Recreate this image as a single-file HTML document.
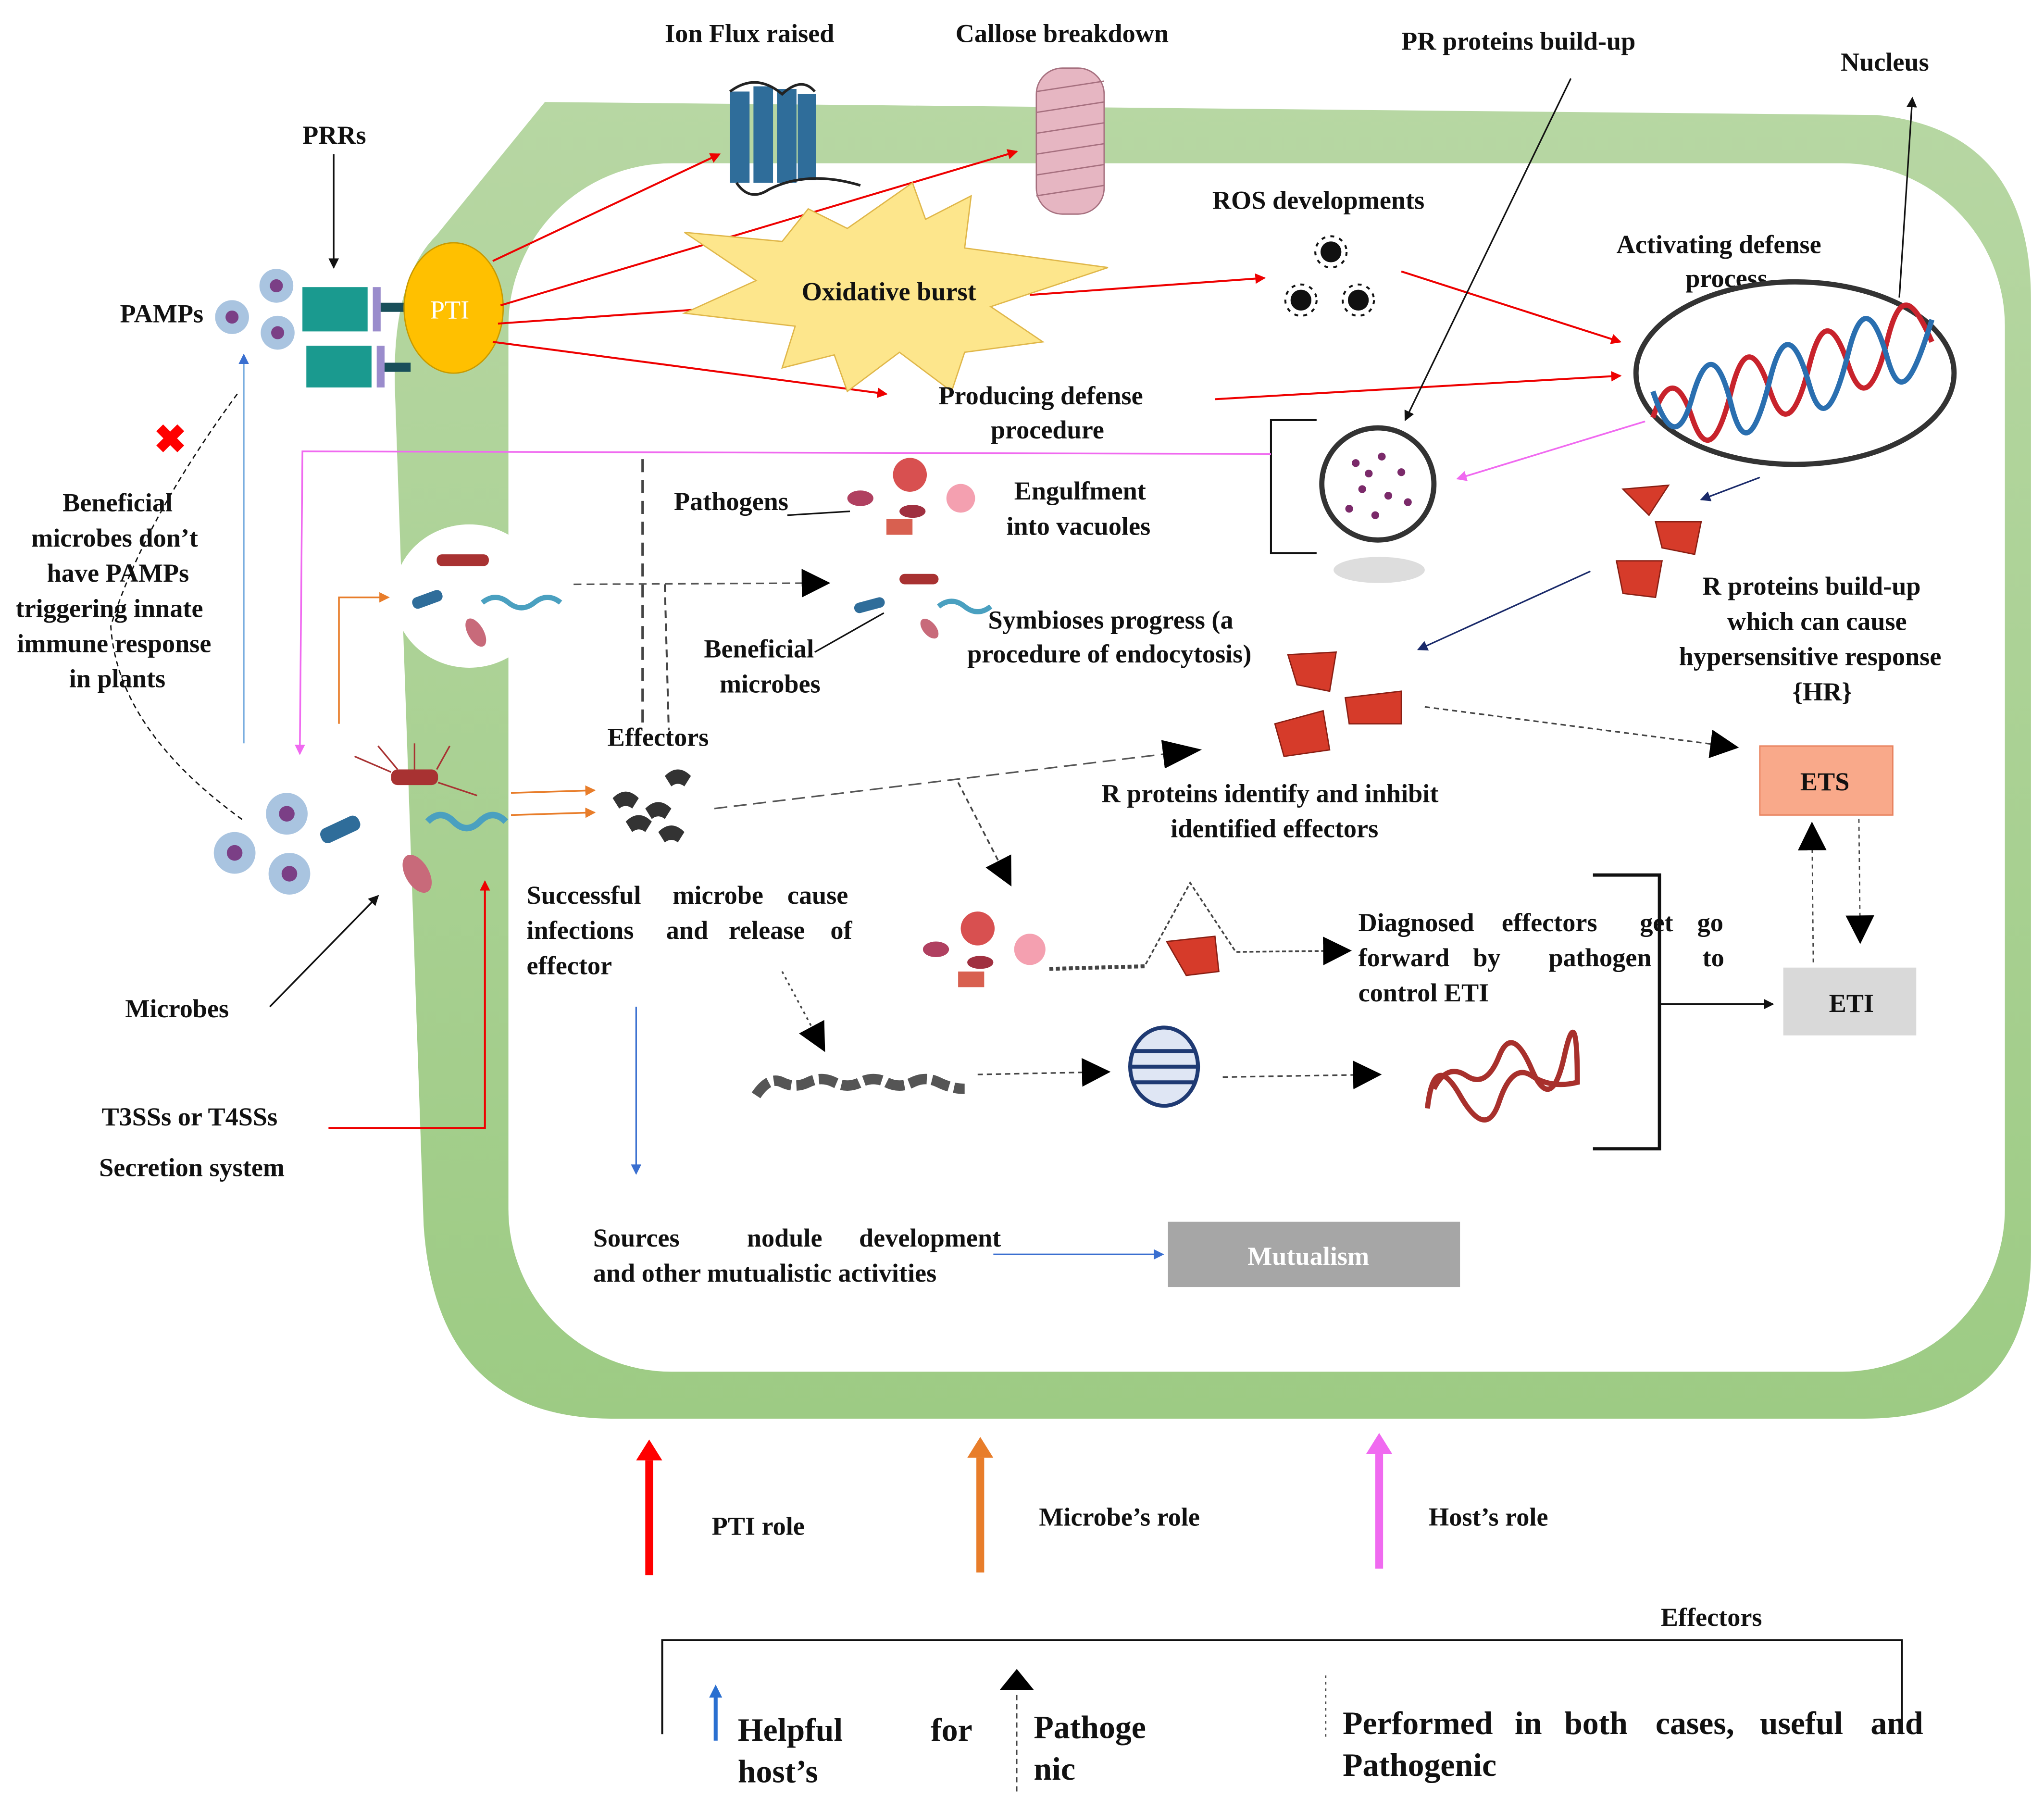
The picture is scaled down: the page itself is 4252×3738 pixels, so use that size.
<!DOCTYPE html>
<html><head><meta charset="utf-8"><style>
html,body{margin:0;padding:0;background:#fff;}
svg{display:block;}
text{font-family:"Liberation Serif",serif;font-weight:bold;fill:#111;font-size:20px;}
</style></head><body>
<svg width="4252" height="3738" viewBox="0 0 1568 1378" xmlns="http://www.w3.org/2000/svg">
<defs>
<marker id="ar" markerWidth="8" markerHeight="8" refX="7" refY="4" orient="auto" markerUnits="userSpaceOnUse"><path d="M0,0 L8,4 L0,8z" fill="#e00"/></marker>
<marker id="ak" markerWidth="8" markerHeight="8" refX="7" refY="4" orient="auto" markerUnits="userSpaceOnUse"><path d="M0,0 L8,4 L0,8z" fill="#111"/></marker>
<marker id="ao" markerWidth="8" markerHeight="8" refX="7" refY="4" orient="auto" markerUnits="userSpaceOnUse"><path d="M0,0 L8,4 L0,8z" fill="#e87d2a"/></marker>
<marker id="ab" markerWidth="8" markerHeight="8" refX="7" refY="4" orient="auto" markerUnits="userSpaceOnUse"><path d="M0,0 L8,4 L0,8z" fill="#3a6fd0"/></marker>
<marker id="ap" markerWidth="8" markerHeight="8" refX="7" refY="4" orient="auto" markerUnits="userSpaceOnUse"><path d="M0,0 L8,4 L0,8z" fill="#f06af0"/></marker>
<marker id="an" markerWidth="8" markerHeight="8" refX="7" refY="4" orient="auto" markerUnits="userSpaceOnUse"><path d="M0,0 L8,4 L0,8z" fill="#1a2a6a"/></marker>
<marker id="abig" markerWidth="30" markerHeight="22" refX="28" refY="11" orient="auto" markerUnits="userSpaceOnUse"><path d="M0,0 L30,11 L0,22z" fill="#000"/></marker>
<marker id="amid" markerWidth="22" markerHeight="22" refX="20" refY="11" orient="auto" markerUnits="userSpaceOnUse"><path d="M0,0 L22,11 L0,22z" fill="#000"/></marker>
<linearGradient id="gw" x1="0" y1="0" x2="0" y2="1"><stop offset="0" stop-color="#b7d7a3"/><stop offset="1" stop-color="#9dcb84"/></linearGradient>
</defs>
<!-- cell wall -->
<path d="M418,78 L1440,88 Q1558,100 1558,230 L1558,960 Q1558,1088 1430,1088 L470,1088 Q335,1088 325,940 L303,300 Q300,215 335,180 Z" fill="url(#gw)"/>
<rect x="390" y="125" width="1148" height="927" rx="125" fill="#fff"/>
<ellipse cx="360" cy="457" rx="58" ry="55" fill="#fff"/>
<!-- PRRs/PAMPs -->
<text x="232" y="110">PRRs</text>
<line x1="256" y1="118" x2="256" y2="205" stroke="#111" stroke-width="1.2" marker-end="url(#ak)"/>
<text x="92" y="247">PAMPs</text>
<g fill="#a9c4e0"><circle cx="178" cy="243" r="13"/><circle cx="212" cy="219" r="13"/><circle cx="213" cy="255" r="13"/></g>
<g fill="#7b3f86"><circle cx="178" cy="243" r="5"/><circle cx="212" cy="219" r="5"/><circle cx="213" cy="255" r="5"/></g>
<rect x="232" y="220" width="50" height="34" fill="#1a9a8f"/><rect x="235" y="265" width="50" height="32" fill="#1a9a8f"/>
<rect x="286" y="220" width="6" height="34" fill="#9a8ccc"/><rect x="289" y="265" width="6" height="32" fill="#9a8ccc"/>
<rect x="292" y="232" width="22" height="7" fill="#194f5a"/><rect x="295" y="278" width="20" height="7" fill="#194f5a"/>
<ellipse cx="348" cy="236" rx="38" ry="50" fill="#ffc000" stroke="#c89a00"/>
<text x="330" y="244" style="fill:#fff;font-weight:normal">PTI</text>
<!-- red arrows from PTI -->
<g stroke="#e00" stroke-width="1.5" fill="none">
<line x1="378" y1="200" x2="552" y2="118" marker-end="url(#ar)"/>
<line x1="384" y1="234" x2="780" y2="116" marker-end="url(#ar)"/>
<line x1="382" y1="248" x2="552" y2="236" marker-end="url(#ar)"/>
<line x1="378" y1="262" x2="680" y2="302" marker-end="url(#ar)"/>
<line x1="790" y1="226" x2="970" y2="213" marker-end="url(#ar)"/>
<line x1="1075" y1="208" x2="1243" y2="262" marker-end="url(#ar)"/>
<line x1="932" y1="306" x2="1243" y2="288" marker-end="url(#ar)"/>
<path d="M252,865 L372,865 L372,676" marker-end="url(#ar)"/>
</g>
<!-- top labels -->
<text x="510" y="32">Ion Flux raised</text>
<text x="733" y="32">Callose breakdown</text>
<text x="1075" y="38">PR proteins build-up</text>
<text x="1412" y="54">Nucleus</text>
<g fill="#2f6d9a"><rect x="560" y="70" width="15" height="70"/><rect x="578" y="66" width="15" height="74"/><rect x="596" y="68" width="15" height="72"/><rect x="612" y="72" width="14" height="66"/></g>
<path d="M560,70 Q580,55 600,72 Q615,58 625,70" stroke="#222" fill="none" stroke-width="2"/>
<path d="M565,140 Q575,155 590,145 Q620,130 660,142" stroke="#222" fill="none" stroke-width="2"/>
<rect x="795" y="52" width="52" height="112" rx="20" fill="#e6b6c2" stroke="#a6707f"/>
<g stroke="#a6707f" stroke-width="1"><line x1="795" y1="70" x2="847" y2="62"/><line x1="795" y1="86" x2="847" y2="78"/><line x1="795" y1="102" x2="847" y2="94"/><line x1="795" y1="118" x2="847" y2="110"/><line x1="795" y1="134" x2="847" y2="126"/><line x1="795" y1="150" x2="847" y2="142"/></g>
<!-- oxidative burst -->
<path d="M525,178 L600,185 L620,160 L650,175 L700,140 L710,168 L745,150 L740,190 L850,205 L760,235 L800,262 L740,270 L730,300 L690,270 L650,300 L640,272 L600,282 L610,250 L525,240 L580,215 Z" fill="#fde68c" stroke="#e0b74a"/>
<text x="615" y="230">Oxidative burst</text>
<text x="930" y="160">ROS developments</text>
<g fill="#111"><circle cx="1021" cy="193" r="8"/><circle cx="998" cy="230" r="8"/><circle cx="1042" cy="230" r="8"/></g>
<g fill="none" stroke="#111" stroke-width="1.5"><circle cx="1021" cy="193" r="12" stroke-dasharray="3 4"/><circle cx="998" cy="230" r="12" stroke-dasharray="3 4"/><circle cx="1042" cy="230" r="12" stroke-dasharray="3 4"/></g>
<text x="1240" y="194">Activating defense</text>
<text x="1293" y="220">process</text>
<ellipse cx="1377" cy="286" rx="122" ry="70" fill="#fff" stroke="#333" stroke-width="4"/>
<path d="M1268,320 C1278,290 1288,290 1298,320 S1318,340 1328,300 S1348,270 1358,300 S1378,320 1388,280 S1408,250 1418,280 S1438,300 1448,260 S1468,230 1482,262" stroke="#c8232c" stroke-width="4" fill="none"/>
<path d="M1268,300 C1278,330 1288,340 1298,305 S1318,270 1328,310 S1348,330 1358,290 S1378,260 1388,295 S1408,310 1418,270 S1438,240 1448,275 S1468,290 1482,245" stroke="#2a6fb0" stroke-width="4" fill="none"/>
<line x1="1457" y1="228" x2="1467" y2="75" stroke="#111" stroke-width="1.2" marker-end="url(#ak)"/>
<text x="720" y="310">Producing defense</text>
<text x="760" y="336">procedure</text>
<line x1="1205" y1="60" x2="1078" y2="322" stroke="#111" stroke-width="1.2" marker-end="url(#ak)"/>
<path d="M1010,322 L975,322 L975,424 L1010,424" stroke="#111" stroke-width="1.5" fill="none"/>
<ellipse cx="1058" cy="437" rx="35" ry="10" fill="#ddd"/>
<circle cx="1057" cy="371" r="43" fill="#fff" stroke="#333" stroke-width="4"/>
<g fill="#7b2a6a"><circle cx="1040" cy="355" r="3"/><circle cx="1060" cy="350" r="3"/><circle cx="1075" cy="362" r="3"/><circle cx="1045" cy="375" r="3"/><circle cx="1065" cy="380" r="3"/><circle cx="1080" cy="385" r="3"/><circle cx="1035" cy="390" r="3"/><circle cx="1055" cy="395" r="3"/><circle cx="1050" cy="363" r="3"/></g>
<line x1="1262" y1="323" x2="1118" y2="367" stroke="#f06af0" stroke-width="1.3" marker-end="url(#ap)"/>
<path d="M975,348 L232,346 L230,578" stroke="#f06af0" stroke-width="1.3" fill="none" marker-end="url(#ap)"/>
<!-- R proteins -->
<g fill="#d63b2a" stroke="#8a1f14"><path d="M1245,375 L1280,372 L1265,395 Z"/><path d="M1270,400 L1305,400 L1300,425 L1275,420Z"/><path d="M1240,430 L1275,430 L1270,458 L1245,455Z"/></g>
<line x1="1350" y1="366" x2="1305" y2="383" stroke="#1a2a6a" stroke-width="1.2" marker-end="url(#an)"/>
<line x1="1220" y1="438" x2="1088" y2="498" stroke="#1a2a6a" stroke-width="1.2" marker-end="url(#an)"/>
<text x="1306" y="456">R proteins build-up</text>
<text x="1325" y="483">which can cause</text>
<text x="1288" y="510">hypersensitive response</text>
<text x="1375" y="537">{HR}</text>
<g fill="#d63b2a" stroke="#8a1f14"><path d="M988,502 L1025,500 L1020,530 L995,525Z"/><path d="M1032,535 L1075,530 L1075,555 L1035,555Z"/><path d="M978,555 L1015,545 L1020,575 L985,580Z"/></g>
<!-- middle -->
<line x1="493" y1="352" x2="493" y2="560" stroke="#444" stroke-width="2" stroke-dasharray="10 6"/>
<line x1="510" y1="448" x2="513" y2="560" stroke="#444" stroke-width="1.5" stroke-dasharray="6 4"/>
<line x1="440" y1="448" x2="635" y2="447" stroke="#555" stroke-width="1.2" stroke-dasharray="6 4" marker-end="url(#amid)"/>
<text x="517" y="391">Pathogens</text>
<line x1="604" y1="395" x2="652" y2="392" stroke="#111" stroke-width="1.2"/>
<g><circle cx="698" cy="364" r="13" fill="#d85050"/><ellipse cx="660" cy="382" rx="10" ry="6" fill="#b04060"/><circle cx="737" cy="382" r="11" fill="#f4a0b0"/><ellipse cx="700" cy="392" rx="10" ry="5" fill="#a03040"/><rect x="680" y="398" width="20" height="12" fill="#d86050"/></g>
<text x="778" y="383">Engulfment</text>
<text x="772" y="410">into vacuoles</text>
<!-- beneficial microbes -->
<rect x="335" y="425" width="40" height="9" rx="4" fill="#a83232"/>
<rect x="316" y="455" width="24" height="9" rx="4" fill="#2f6d9a" transform="rotate(-20 328 460)"/>
<path d="M370,462 q10,-8 20,0 t20,0 t20,0" stroke="#4aa0c0" stroke-width="4" fill="none"/>
<ellipse cx="365" cy="485" rx="6" ry="12" fill="#c86a7a" transform="rotate(-30 365 485)"/>
<rect x="690" y="440" width="30" height="8" rx="4" fill="#a83232"/>
<rect x="655" y="460" width="24" height="8" rx="4" fill="#2f6d9a" transform="rotate(-15 667 464)"/>
<path d="M720,465 q10,-8 20,0 t20,0" stroke="#4aa0c0" stroke-width="4" fill="none"/>
<ellipse cx="713" cy="482" rx="5" ry="9" fill="#c86a7a" transform="rotate(-40 713 482)"/>
<text x="758" y="482">Symbioses progress (a</text>
<text x="742" y="508">procedure of endocytosis)</text>
<text x="540" y="504">Beneficial</text>
<text x="552" y="531">microbes</text>
<line x1="625" y1="500" x2="678" y2="470" stroke="#111" stroke-width="1.2"/>
<text x="48" y="392">Beneficial</text>
<text x="24" y="419">microbes don’t</text>
<text x="36" y="446">have PAMPs</text>
<text x="12" y="473">triggering innate</text>
<text x="13" y="500">immune response</text>
<text x="53" y="527">in plants</text>
<path d="M182,302 Q110,400 85,480 Q90,560 188,630" stroke="#111" stroke-width="1" stroke-dasharray="4 3" fill="none"/>
<text x="118" y="347" style="fill:#f00;font-size:30px">✖</text>
<line x1="187" y1="570" x2="187" y2="272" stroke="#7aaee0" stroke-width="1.2" marker-end="url(#ab)"/>
<path d="M260,555 L260,458 L298,458" stroke="#e87d2a" stroke-width="1.3" fill="none" marker-end="url(#ao)"/>
<!-- microbes bottom left -->
<g fill="#a9c4e0"><circle cx="220" cy="624" r="16"/><circle cx="180" cy="654" r="16"/><circle cx="222" cy="670" r="16"/></g>
<g fill="#7b3f86"><circle cx="220" cy="624" r="6"/><circle cx="180" cy="654" r="6"/><circle cx="222" cy="670" r="6"/></g>
<rect x="300" y="590" width="36" height="12" rx="5" fill="#a83232"/>
<rect x="245" y="630" width="32" height="12" rx="5" fill="#2f6d9a" transform="rotate(-25 261 636)"/>
<path d="M328,630 q10,-10 20,0 t20,0 t20,0" stroke="#4aa0c0" stroke-width="5" fill="none"/>
<ellipse cx="320" cy="670" rx="9" ry="16" fill="#c86a7a" transform="rotate(-30 320 670)"/>
<g stroke="#a83232" stroke-width="1.2"><line x1="300" y1="592" x2="272" y2="580"/><line x1="305" y1="590" x2="290" y2="572"/><line x1="335" y1="590" x2="345" y2="572"/><line x1="336" y1="600" x2="366" y2="610"/><line x1="318" y1="590" x2="318" y2="570"/></g>
<text x="96" y="780">Microbes</text>
<line x1="207" y1="772" x2="290" y2="687" stroke="#111" stroke-width="1.3" marker-end="url(#ak)"/>
<text x="78" y="863">T3SSs or T4SSs</text>
<text x="76" y="902">Secretion system</text>
<line x1="392" y1="608" x2="456" y2="606" stroke="#e87d2a" stroke-width="1.3" marker-end="url(#ao)"/>
<line x1="392" y1="625" x2="456" y2="623" stroke="#e87d2a" stroke-width="1.3" marker-end="url(#ao)"/>
<text x="466" y="572">Effectors</text>
<g fill="#333"><path d="M470,612 q10,-10 20,0 l-5,8 q-5,-4 -10,0z"/><path d="M510,595 q10,-10 20,0 l-5,8 q-5,-4 -10,0z"/><path d="M495,620 q10,-10 20,0 l-5,8 q-5,-4 -10,0z"/><path d="M505,638 q10,-10 20,0 l-5,8 q-5,-4 -10,0z"/><path d="M480,630 q10,-10 20,0 l-5,8 q-5,-4 -10,0z"/></g>
<line x1="548" y1="620" x2="920" y2="575" stroke="#555" stroke-width="1.2" stroke-dasharray="10 5" marker-end="url(#abig)"/>
<line x1="1093" y1="542" x2="1332" y2="573" stroke="#444" stroke-width="1.2" stroke-dasharray="4 3" marker-end="url(#amid)"/>
<text x="845" y="615">R proteins identify and inhibit</text>
<text x="898" y="642">identified effectors</text>
<rect x="1350" y="572" width="102" height="53" fill="#f9a98a" stroke="#e8825e"/>
<text x="1381" y="606">ETS</text>
<rect x="1368" y="742" width="102" height="52" fill="#d9d9d9"/>
<text x="1403" y="776">ETI</text>
<line x1="1391" y1="738" x2="1390" y2="632" stroke="#444" stroke-width="1" stroke-dasharray="3 3" marker-end="url(#amid)"/>
<line x1="1426" y1="628" x2="1427" y2="722" stroke="#444" stroke-width="1" stroke-dasharray="3 3" marker-end="url(#amid)"/>
<line x1="735" y1="600" x2="775" y2="678" stroke="#444" stroke-width="1.3" stroke-dasharray="4 3" marker-end="url(#amid)"/>
<text x="404" y="693">Successful</text><text x="516" y="693">microbe</text><text x="604" y="693">cause</text>
<text x="404" y="720">infections</text><text x="511" y="720">and</text><text x="559" y="720">release</text><text x="637" y="720">of</text>
<text x="404" y="747">effector</text>
<g><circle cx="750" cy="712" r="13" fill="#d85050"/><ellipse cx="718" cy="728" rx="10" ry="6" fill="#b04060"/><circle cx="790" cy="728" r="12" fill="#f4a0b0"/><ellipse cx="752" cy="738" rx="10" ry="5" fill="#a03040"/><rect x="735" y="745" width="20" height="12" fill="#d86050"/></g>
<path d="M805,743 L878,741 L913,677 L948,730 L1035,729" stroke="#444" stroke-width="1.3" stroke-dasharray="3 2" fill="none" marker-end="url(#amid)"/>
<path d="M805,743 L878,741" stroke="#444" stroke-width="3" stroke-dasharray="3 2"/>
<path d="M895,722 L932,718 L935,745 L910,748Z" fill="#d63b2a" stroke="#8a1f14"/>
<text x="1042" y="714">Diagnosed</text><text x="1152" y="714">effectors</text><text x="1258" y="714">get</text><text x="1302" y="714">go</text>
<text x="1042" y="741">forward</text><text x="1130" y="741">by</text><text x="1188" y="741">pathogen</text><text x="1306" y="741">to</text>
<text x="1042" y="768">control ETI</text>
<path d="M1222,671 L1273,671 L1273,881 L1222,881" stroke="#111" stroke-width="2.5" fill="none"/>
<line x1="1273" y1="770" x2="1360" y2="770" stroke="#111" stroke-width="1.3" marker-end="url(#ak)"/>
<line x1="600" y1="745" x2="632" y2="805" stroke="#444" stroke-width="1.3" stroke-dasharray="2 3" marker-end="url(#amid)"/>
<path d="M580,840 q10,-15 20,-10 t20,0 t20,0 t20,0 t20,0 t20,0 t20,0 t20,5" stroke="#555" stroke-width="8" fill="none" stroke-dasharray="14 4"/>
<line x1="750" y1="824" x2="850" y2="822" stroke="#444" stroke-width="1.2" stroke-dasharray="4 3" marker-end="url(#amid)"/>
<ellipse cx="893" cy="818" rx="26" ry="30" fill="#dfe6f4" stroke="#1f3a73" stroke-width="3"/>
<g stroke="#1f3a73" stroke-width="3"><line x1="868" y1="806" x2="918" y2="806"/><line x1="866" y1="818" x2="920" y2="818"/><line x1="868" y1="830" x2="918" y2="830"/></g>
<line x1="938" y1="826" x2="1058" y2="824" stroke="#444" stroke-width="1.2" stroke-dasharray="4 3" marker-end="url(#amid)"/>
<path d="M1100,835 q10,-20 25,-10 t25,-15 t25,10 t25,-10 t10,20 q-20,5 -35,-5 t-25,20 t-30,-5 t-25,10" stroke="#a8302c" stroke-width="4" fill="none"/>
<line x1="488" y1="772" x2="488" y2="900" stroke="#3a6fd0" stroke-width="1.2" marker-end="url(#ab)"/>
<text x="455" y="956">Sources</text><text x="573" y="956">nodule</text><text x="659" y="956">development</text>
<text x="455" y="983">and other mutualistic activities</text>
<line x1="762" y1="962" x2="892" y2="962" stroke="#3a6fd0" stroke-width="1.2" marker-end="url(#ab)"/>
<rect x="896" y="937" width="224" height="50" fill="#a6a6a6"/>
<text x="957" y="970" style="fill:#fff">Mutualism</text>
<!-- legend arrows -->
<line x1="498" y1="1208" x2="498" y2="1120" stroke="#f00" stroke-width="6"/><path d="M488,1120 L498,1104 L508,1120Z" fill="#f00"/>
<text x="546" y="1177">PTI role</text>
<line x1="752" y1="1206" x2="752" y2="1118" stroke="#e87d2a" stroke-width="6"/><path d="M742,1118 L752,1102 L762,1118Z" fill="#e87d2a"/>
<text x="797" y="1170">Microbe’s role</text>
<line x1="1058" y1="1203" x2="1058" y2="1115" stroke="#f06af0" stroke-width="6"/><path d="M1048,1115 L1058,1099 L1068,1115Z" fill="#f06af0"/>
<text x="1096" y="1170">Host’s role</text>
<text x="1274" y="1247">Effectors</text>
<path d="M508,1330 L508,1258 L1459,1258 L1459,1330" stroke="#111" stroke-width="1.5" fill="none"/>
<line x1="549" y1="1335" x2="549" y2="1300" stroke="#2a6fd0" stroke-width="3"/><path d="M544,1302 L549,1292 L554,1302Z" fill="#2a6fd0"/>
<text x="566" y="1335" style="font-size:25px">Helpful</text><text x="714" y="1335" style="font-size:25px">for</text>
<text x="566" y="1367" style="font-size:25px">host’s</text>
<path d="M767,1296 L780,1280 L793,1296Z" fill="#000"/>
<line x1="780" y1="1300" x2="780" y2="1375" stroke="#444" stroke-dasharray="4 3"/>
<text x="793" y="1333" style="font-size:25px">Pathoge</text>
<text x="793" y="1365" style="font-size:25px">nic</text>
<line x1="1017" y1="1285" x2="1017" y2="1335" stroke="#444" stroke-dasharray="2 3"/>
<text x="1030" y="1330" style="font-size:25px">Performed</text><text x="1162" y="1330" style="font-size:25px">in</text><text x="1200" y="1330" style="font-size:25px">both</text><text x="1270" y="1330" style="font-size:25px">cases,</text><text x="1350" y="1330" style="font-size:25px">useful</text><text x="1435" y="1330" style="font-size:25px">and</text>
<text x="1030" y="1362" style="font-size:25px">Pathogenic</text>
</svg>
</body></html>
